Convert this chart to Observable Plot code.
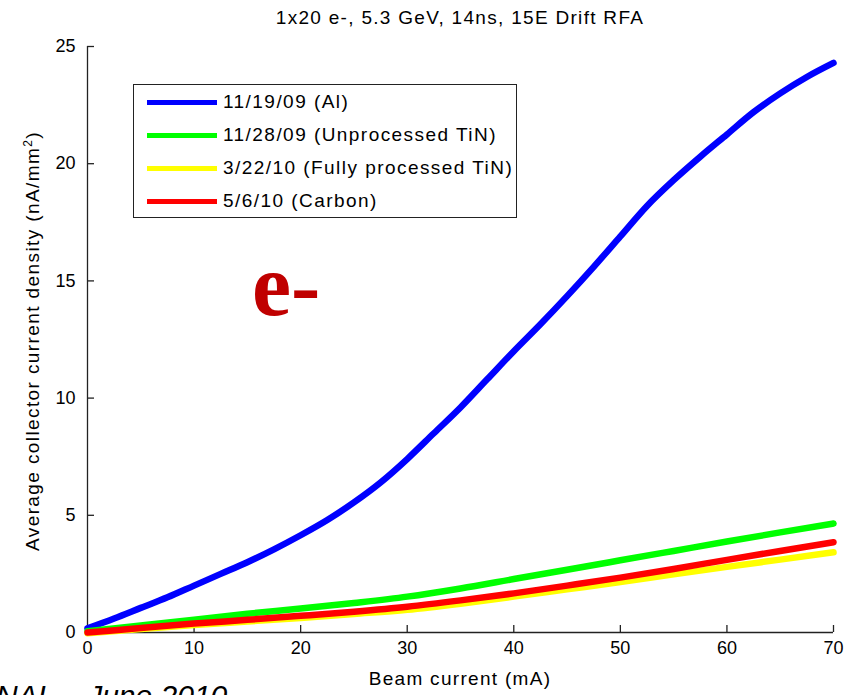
<!DOCTYPE html>
<html>
<head>
<meta charset="utf-8">
<script src="https://cdn.jsdelivr.net/npm/d3@7"></script>
<script src="https://cdn.jsdelivr.net/npm/@observablehq/plot@0.6"></script>
<style>
  html, body { margin: 0; padding: 0; background: #fff; }
  #wrap { position: relative; width: 852px; height: 695px; overflow: hidden; font-family: "Liberation Sans", Arial, sans-serif; color: #000; }
  #wrap svg { position: absolute; left: 0; top: 0; }
  .txt { position: absolute; white-space: nowrap; line-height: 1; }
  #title { left: 460px; top: 8px; font-size: 19px; letter-spacing: 1.3px; transform: translateX(-50%); }
  #xlabel { left: 460px; top: 669px; font-size: 19px; letter-spacing: 1.3px; transform: translateX(-50%); }
  #ylabel { left: 32px; top: 341px; font-size: 19px; letter-spacing: 1.4px; transform: translate(-50%, -50%) rotate(-90deg); }
  #ylabel sup { font-size: 12px; vertical-align: 7px; line-height: 0; }
  #tag { left: 252px; top: 242px; font-family: "Liberation Serif", "Times New Roman", serif; font-weight: bold; font-size: 88px; color: #c00000; }
  #foot { left: -4px; top: 681px; font-size: 30px; font-style: italic; }
  #legend { position: absolute; left: 133px; top: 84px; width: 384px; height: 134px; border: 1px solid #222; background: #fff; box-sizing: border-box; }
  .row { position: absolute; left: 0; height: 0; }
  .row .sw { position: absolute; left: 13px; width: 70px; height: 5px; top: -2px; }
  .row .lb { position: absolute; left: 89px; top: -10px; font-size: 19px; letter-spacing: 1.45px; line-height: 1; white-space: nowrap; }
</style>
</head>
<body>
<div id="wrap"></div>
<script>
// Collector current density vs. beam current for four chamber coatings
const seriesNames = ["11/19/09 (Al)", "11/28/09 (Unprocessed TiN)", "3/22/10 (Fully processed TiN)", "5/6/10 (Carbon)"];
const seriesColors = ["#0000ff", "#00ff00", "#ffff00", "#ff0000"];

// Beam current (mA) sample points
const currentAl = [0, 2.5, 5, 7.5, 10, 12.5, 15, 17.5, 20, 22.5, 25, 27.5, 30, 32.5, 35, 37.5, 40, 42.5, 45, 47.5, 50, 52.5, 55, 57.5, 60, 62.5, 65, 67.5, 70];
const currentCoated = [0, 5, 10, 15, 20, 25, 30, 35, 40, 45, 50, 55, 60, 65, 70];

// Average collector current density (nA/mm^2)
const densityAl = [0.18, 0.6, 1.05, 1.5, 2.0, 2.5, 3.0, 3.55, 4.15, 4.8, 5.55, 6.4, 7.4, 8.5, 9.6, 10.8, 12.0, 13.15, 14.35, 15.6, 16.9, 18.2, 19.3, 20.3, 21.25, 22.2, 23.0, 23.7, 24.3];
const densityTiN = [0.05, 0.3, 0.55, 0.8, 1.02, 1.26, 1.53, 1.88, 2.28, 2.68, 3.08, 3.48, 3.88, 4.27, 4.65];
const densityTiNProc = [-0.03, 0.15, 0.32, 0.47, 0.62, 0.79, 0.97, 1.23, 1.53, 1.84, 2.15, 2.48, 2.8, 3.11, 3.42];
const densityCarbon = [0.0, 0.19, 0.38, 0.54, 0.71, 0.89, 1.1, 1.37, 1.67, 2.0, 2.34, 2.71, 3.1, 3.48, 3.85];

const xTicks = [0, 10, 20, 30, 40, 50, 60, 70];
const yTicks = [0, 5, 10, 15, 20, 25];

const W = 852, H = 695, mL = 87, mR = 19, mT = 46, mB = 63;
const tickLen = 7;

const runs = [
  {name: seriesNames[0], x: currentAl, y: densityAl},
  {name: seriesNames[1], x: currentCoated, y: densityTiN},
  {name: seriesNames[2], x: currentCoated, y: densityTiNProc},
  {name: seriesNames[3], x: currentCoated, y: densityCarbon}
];
const rows = runs.flatMap(r => r.x.map((x, i) => ({series: r.name, current: x, density: r.y[i]})));

const chart = Plot.plot({
  width: W,
  height: H,
  marginLeft: mL,
  marginRight: mR,
  marginTop: mT,
  marginBottom: mB,
  style: {fontFamily: "'Liberation Sans', Arial, sans-serif", fontSize: "18px", color: "#000", background: "transparent", overflow: "visible"},
  x: {domain: [0, 70], label: null},
  y: {domain: [0, 25], label: null},
  color: {domain: seriesNames, range: seriesColors},
  marks: [
    // inward-pointing ticks along the bottom and left axes
    Plot.ruleX(xTicks, {stroke: "#222", strokeWidth: 1.3, insetTop: (H - mT - mB) - tickLen}),
    Plot.ruleY(yTicks, {stroke: "#222", strokeWidth: 1.3, insetRight: (W - mL - mR) - tickLen}),
    Plot.ruleX([0], {stroke: "#222", strokeWidth: 1.3}),
    Plot.ruleY([0], {stroke: "#222", strokeWidth: 1.3}),
    Plot.axisX({ticks: xTicks, tickSize: 0, tickPadding: 9, label: null}),
    Plot.axisY({ticks: yTicks, tickSize: 0, tickPadding: 12, label: null}),
    Plot.line(rows, {x: "current", y: "density", z: "series", stroke: "series", strokeWidth: 6.5, strokeLinejoin: "round", strokeLinecap: "round", curve: "monotone-x"})
  ]
});

const wrap = document.getElementById("wrap");
wrap.appendChild(chart);

function addText(id, html) {
  const d = document.createElement("div");
  d.className = "txt";
  d.id = id;
  d.innerHTML = html;
  wrap.appendChild(d);
}
addText("title", "1x20 e-, 5.3 GeV, 14ns, 15E Drift RFA");
addText("xlabel", "Beam current (mA)");
addText("ylabel", "Average collector current density (nA/mm<sup>2</sup>)");
addText("tag", "e-");
addText("foot", "NAL \u2013 June 2010");

// Legend box
const legend = document.createElement("div");
legend.id = "legend";
const rowTops = [17, 50, 83, 116];
seriesNames.forEach((name, i) => {
  const r = document.createElement("div");
  r.className = "row";
  r.style.top = rowTops[i] + "px";
  const sw = document.createElement("div");
  sw.className = "sw";
  sw.style.background = seriesColors[i];
  const lb = document.createElement("div");
  lb.className = "lb";
  lb.textContent = name;
  r.appendChild(sw);
  r.appendChild(lb);
  legend.appendChild(r);
});
wrap.appendChild(legend);
</script>
</body>
</html>
